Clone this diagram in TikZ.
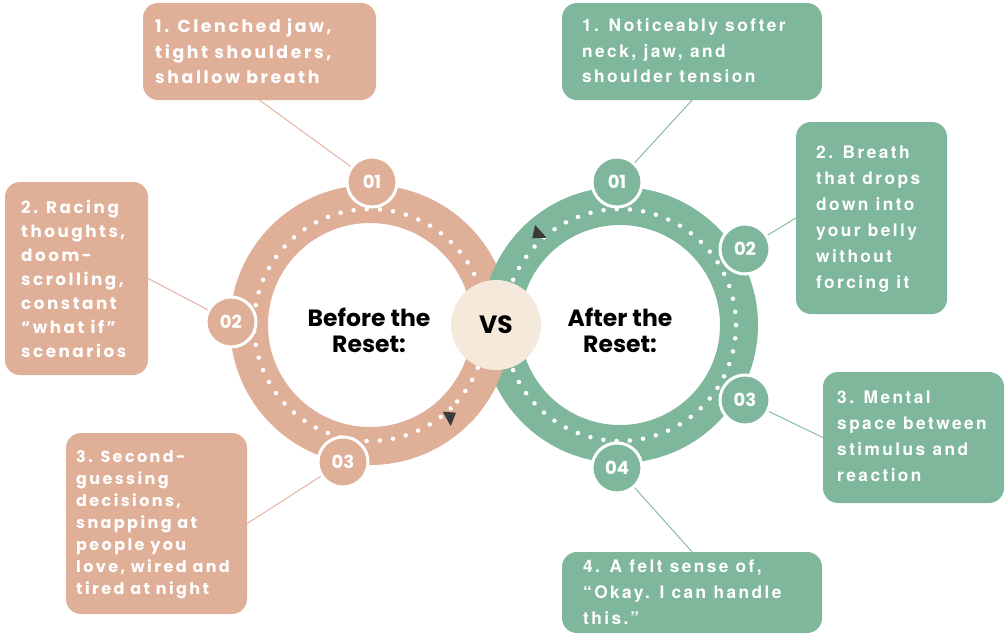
\documentclass[tikz,border=0pt]{standalone}
\usepackage{fontspec}
\setmainfont{Poppins}
\newfontfamily\lf{Poppins}[LetterSpace=15]
\newfontfamily\rf{TeX Gyre Heros}[LetterSpace=14]
\definecolor{peach}{HTML}{DFAF98}
\definecolor{sage}{HTML}{7FB79D}
\definecolor{vsbg}{HTML}{F4E9DB}
\definecolor{arrowgray}{HTML}{3A3A3A}
\tikzset{
  pbox/.style={fill=peach, rounded corners=15pt, inner sep=0pt},
  gbox/.style={fill=sage, rounded corners=15pt, inner sep=0pt},
  ptext/.style={anchor=north west, inner sep=0pt, align=left, text=white},
  gtext/.style={anchor=north west, inner sep=0pt, align=left, text=white},
  pnum/.style={circle, fill=peach, draw=white, line width=3pt, minimum size=50pt, inner sep=0pt, text=white, font=\fontsize{18}{20}\selectfont\bfseries},
  gnum/.style={circle, fill=sage, draw=white, line width=3pt, minimum size=50pt, inner sep=0pt, text=white, font=\fontsize{18}{20}\selectfont\bfseries},
  plink/.style={draw=peach, line width=0.9pt},
  glink/.style={draw=sage, line width=0.9pt},
  dots/.style={draw=white, line width=4.5pt, line cap=round, dash pattern=on 0pt off 13.25pt},
  title/.style={align=center, inner sep=0pt, font=\fontsize{23.5}{26}\selectfont\bfseries, text=black},
}
\begin{document}
\begin{tikzpicture}[x=1pt,y=-1pt]
\useasboundingbox[fill=white] (0,0) rectangle (1006,637);

% rings
\coordinate (LC) at (370,325);
\coordinate (RC) at (620,325);
\draw[peach, line width=38pt] (LC) circle[radius=121pt];
\draw[dots] (LC) circle[radius=116pt];
\draw[sage, line width=38pt] (RC) circle[radius=119pt];
\draw[dots] (RC) circle[radius=116pt];
% orange over green below the VS circle
\draw[peach, line width=38pt] (LC) ++(-2:121pt) arc[start angle=-2, end angle=-45, radius=121pt];
\draw[dots] (LC) ++(-2:116pt) arc[start angle=-2, end angle=-45, radius=116pt];

% direction arrowheads
\fill[arrowgray] (442.7,411.7) -- (456,412.7) -- (450.7,426) -- cycle;
\fill[arrowgray] (535,225) -- (532.3,238.3) -- (546.7,237.7) -- cycle;

% VS
\node[circle, fill=vsbg, minimum size=90pt, inner sep=0pt, font=\fontsize{25}{28}\selectfont\bfseries] (vs) at (496,325) {VS};

% titles
\node[title] (tl) at (369,330) {Before the\\Reset:};
\node[title] (tr) at (620,330) {After the\\Reset:};

% boxes
\node[pbox, minimum width=233pt, minimum height=97pt] (L1) at (259.5,51.5) {};
\node[pbox, minimum width=143pt, minimum height=193pt] (L2) at (76.5,278.5) {};
\node[pbox, minimum width=181pt, minimum height=181pt] (L3) at (156.5,523.5) {};
\node[gbox, minimum width=260pt, minimum height=97pt] (R1) at (692,51.5) {};
\node[gbox, minimum width=151pt, minimum height=192pt] (R2) at (871.5,218) {};
\node[gbox, minimum width=181pt, minimum height=131pt] (R3) at (913.5,437.5) {};
\node[gbox, minimum width=260pt, minimum height=81pt] (R4) at (692,592.5) {};

% number circles
\node[pnum] (n1) at (372,182) {01};
\node[pnum] (n2) at (231,322) {02};
\node[pnum] (n3) at (343,462) {03};
\node[gnum] (m1) at (617,182) {01};
\node[gnum] (m2) at (745,249) {02};
\node[gnum] (m3) at (745,400) {03};
\node[gnum] (m4) at (617,468) {04};

% connectors
\draw[plink] (L1.south) -- (n1);
\draw[plink] (L2.east) -- (n2);
\draw[plink] (L3.east) -- (n3);
\draw[glink] (R1.south) -- (m1);
\draw[glink] (R2.west) -- (m2);
\draw[glink] (R3.west) -- (m3);
\draw[glink] (R4.north) -- (m4);

% texts
\node[ptext, font=\fontsize{17.3}{25.5}\selectfont\lf\bfseries] (L1t) at (155,18.5) {1. Clenched jaw,\\tight shoulders,\\shallow breath};
\node[ptext, font=\fontsize{16.8}{24}\selectfont\lf\bfseries] (L2t) at (21,199.5) {2. Racing\\thoughts,\\doom-\\scrolling,\\constant\\“what if”\\scenarios};
\node[ptext, font=\fontsize{16}{22}\selectfont\lf\bfseries] (L3t) at (76,450) {3. Second-\\guessing\\decisions,\\snapping at\\people you\\love, wired and\\tired at night};
\node[gtext, font=\fontsize{17.3}{25.5}\selectfont\rf\bfseries] (R1t) at (582,18.5) {1. Noticeably softer\\neck, jaw, and\\shoulder tension};
\node[gtext, font=\fontsize{17.3}{26}\selectfont\rf\bfseries] (R2t) at (816,145.5) {2. Breath\\that drops\\down into\\your belly\\without\\forcing it};
\node[gtext, font=\fontsize{17.3}{26}\selectfont\rf\bfseries] (R3t) at (837,390.5) {3. Mental\\space between\\stimulus and\\reaction};
\node[gtext, font=\fontsize{17.3}{26}\selectfont\rf\bfseries] (R4t) at (583,559.5) {4. A felt sense of,\\“Okay. I can handle\\this.”};
\end{tikzpicture}
\end{document}
